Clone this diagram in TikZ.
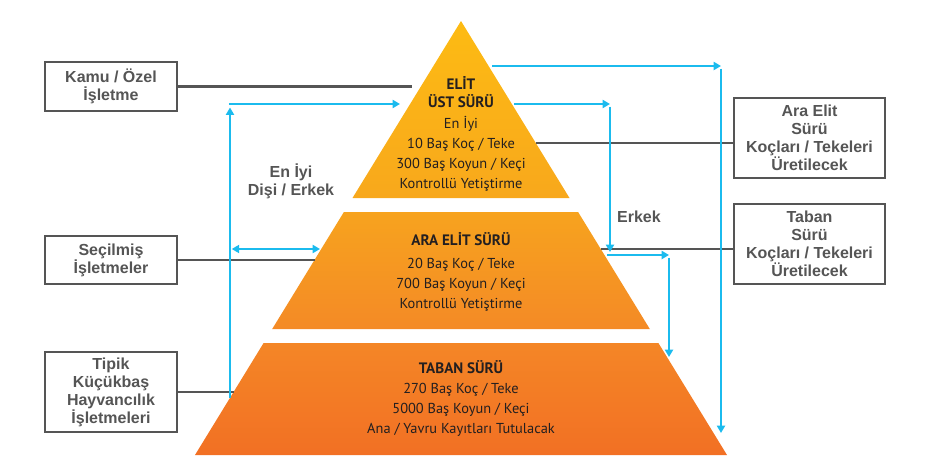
\documentclass[tikz,border=0pt]{standalone}
\usepackage{fontspec}
\setmainfont{PT Sans}
\newfontfamily\labelfont{Liberation Sans}
\usepackage{tikz}
\usetikzlibrary{
    positioning,
    arrows.meta
}
\definecolor{flowBlue}{RGB}{27, 187, 238}
\definecolor{boxGray}{RGB}{85, 85, 85}
\definecolor{textDark}{RGB}{35, 31, 32}
\definecolor{tierOneTop}{RGB}{253, 187, 19}
\definecolor{tierOneBot}{RGB}{248, 168, 28}
\definecolor{tierTwoTop}{RGB}{247, 163, 30}
\definecolor{tierTwoBot}{RGB}{244, 138, 38}
\definecolor{tierThreeTop}{RGB}{244, 134, 38}
\definecolor{tierThreeBot}{RGB}{242, 112, 36}

\begin{document}
\begin{tikzpicture}[x=0.02cm, y=-0.02cm, >={Triangle[length=4.2pt, width=4.6pt]},
    labelbox/.style={draw=boxGray, line width=1.3pt, align=center, text=boxGray, inner sep=0pt,
        font=\labelfont\bfseries\fontsize{9.1}{10.2}\selectfont},
    grayline/.style={draw=boxGray, line width=1.25pt},
    blueline/.style={draw=flowBlue, line width=1.3pt},
    tierhead/.style={align=center, text=textDark, font=\bfseries\fontsize{8.6}{10.2}\selectfont},
    tiertext/.style={align=center, text=textDark, font=\fontsize{8.2}{11.4}\selectfont}]
    \useasboundingbox (0,0) rectangle (931,470);

    % pyramid tiers
    \shade[top color=tierOneTop, bottom color=tierOneBot] (461,21) -- (569.5,198) -- (352.5,198) -- cycle;
    \shade[top color=tierTwoTop, bottom color=tierTwoBot] (343.9,212) -- (578.1,212) -- (649.8,329) -- (272.2,329) -- cycle;
    \shade[top color=tierThreeTop, bottom color=tierThreeBot] (263.6,343) -- (658.4,343) -- (727,455) -- (195,455) -- cycle;

    \node[tierhead] (elithead) at (461,91.7) {EL\.IT\\\"UST S\"UR\"U};
    \node[tiertext] (elitbody) at (461,153.5) {En \.Iyi\\10 Baş Koç / Teke\\300 Baş Koyun / Keçi\\Kontrollü Yetiştirme};
    \node[tierhead] (arahead) at (461,239) {ARA EL\.IT S\"UR\"U};
    \node[tiertext] (arabody) at (461,285) {20 Baş Koç / Teke\\700 Baş Koyun / Keçi\\Kontrollü Yetiştirme};
    \node[tierhead] (tabanhead) at (461,366.7) {TABAN S\"UR\"U};
    \node[tiertext] (tabanbody) at (461,410) {270 Baş Koç / Teke\\5000 Baş Koyun / Keçi\\Ana / Yavru Kayıtları Tutulacak};

    % side boxes
    \node[labelbox, minimum width=2.64cm, minimum height=0.98cm] (kamu) at (111,86.5) {Kamu / \"Ozel\\\.Işletme};
    \node[labelbox, minimum width=2.64cm, minimum height=0.96cm] (secilmis) at (111,260) {Seçilmiş\\\.Işletmeler};
    \node[labelbox, minimum width=2.64cm, minimum height=1.6cm] (tipik) at (111,392) {Tipik\\Küçükbaş\\Hayvancılık\\\.Işletmeleri};
    \node[labelbox, minimum width=3.02cm, minimum height=1.6cm] (araelit) at (809.5,138) {Ara Elit\\Sürü\\Koçları / Tekeleri\\\"Uretilecek};
    \node[labelbox, minimum width=3.02cm, minimum height=1.6cm] (taban) at (809.5,244) {Taban\\Sürü\\Koçları / Tekeleri\\\"Uretilecek};

    \node[labelbox, draw=none] (eniyi) at (291,181) {En \.Iyi\\Dişi / Erkek};
    \node[labelbox, draw=none] (erkek) at (639,216.7) {Erkek};

    % points on the tier edges
    \coordinate (kamuEnd) at (412,86.5);
    \coordinate (elitR) at (536,142.7);
    \coordinate (araL) at (314.5,260);
    \coordinate (araR) at (601,249);
    \coordinate (tabanL) at (233.6,392);

    \draw[grayline] (kamu.east) -- (kamuEnd);
    \draw[grayline] (secilmis.east) -- (araL);
    \draw[grayline] (tipik.east) -- (tabanL);
    \draw[grayline] (elitR) -- (elitR -| araelit.west);
    \draw[grayline] (araR) -- (araR -| taban.west);

    % left loop: best females / males up to the elite
    \coordinate (eyBot) at (230,398);
    \coordinate (eyTop) at (230,104);
    \coordinate (eyTip) at (400,104);
    \coordinate (eyMid) at (230,249);
    \coordinate (eyAra) at (320,249);
    \draw[blueline, ->] (eyBot) -- ([yshift=-2pt]eyTop);
    \draw[blueline, ->] ([xshift=-0.6pt]eyTop) -- (eyTip);
    \draw[blueline, <->] ([xshift=1pt]eyMid) -- (eyAra);

    % right side: rams going down
    \coordinate (topR) at (492,66);
    \coordinate (topC) at (721,66);
    \coordinate (topB) at (721,433);
    \draw[blueline, ->] (topR) -- (topC);
    \draw[blueline, ->] ([yshift=-1.5pt]topC) -- (topB);

    \coordinate (erkR) at (514,104);
    \coordinate (erkC) at (610,104);
    \coordinate (erkB) at (610,252);
    \draw[blueline, ->] (erkR) -- (erkC);
    \draw[blueline, ->] ([yshift=-1.5pt]erkC) -- (erkB);

    \coordinate (araOut) at (607,255);
    \coordinate (araC) at (669,255);
    \coordinate (araB) at (669,357);
    \draw[blueline, ->] (araOut) -- (araC);
    \draw[blueline, ->] ([yshift=-1.5pt]araC) -- (araB);
\end{tikzpicture}
\end{document}
